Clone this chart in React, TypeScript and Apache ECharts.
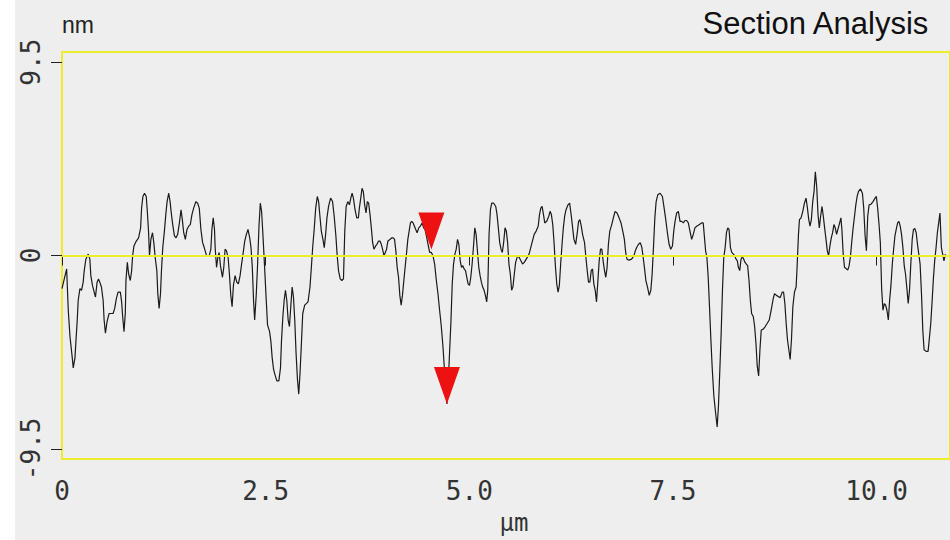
import React, { useEffect, useRef } from "react";
import * as echarts from "echarts";

// Section profile: horizontal position (μm) and height (nm)
const positionUm = [
  0.0, 0.057, 0.077, 0.098, 0.126, 0.138, 0.159, 0.171, 0.187, 0.199, 0.22, 0.24, 0.26, 0.273, 0.293, 0.322, 0.342, 0.354,
  0.374, 0.395, 0.411, 0.431, 0.448, 0.464, 0.484, 0.505, 0.517, 0.533, 0.553, 0.578, 0.627, 0.647, 0.667, 0.688, 0.716,
  0.732, 0.745, 0.761, 0.777, 0.785, 0.802, 0.818, 0.838, 0.855, 0.867, 0.883, 0.912, 0.94, 0.965, 0.977, 0.993, 1.013,
  1.034, 1.046, 1.062, 1.074, 1.091, 1.111, 1.127, 1.144, 1.164, 1.176, 1.192, 1.209, 1.221, 1.237, 1.257, 1.274, 1.29,
  1.31, 1.327, 1.339, 1.359, 1.38, 1.4, 1.42, 1.441, 1.461, 1.477, 1.494, 1.514, 1.534, 1.555, 1.575, 1.595, 1.616, 1.644,
  1.665,
  1.685, 1.705, 1.726, 1.746, 1.775, 1.807, 1.827, 1.84, 1.856, 1.872, 1.88, 1.897, 1.913, 1.929, 1.945, 1.97, 1.986,
  2.002, 2.019, 2.039, 2.055, 2.072, 2.088, 2.104, 2.125, 2.145, 2.165, 2.186, 2.202, 2.222, 2.243, 2.263, 2.283, 2.304,
  2.32, 2.336, 2.352, 2.365, 2.385, 2.401, 2.418, 2.434, 2.45, 2.466, 2.487, 2.507, 2.523, 2.548, 2.564, 2.58, 2.597,
  2.613, 2.637, 2.662, 2.682, 2.694, 2.711, 2.727, 2.743, 2.759, 2.776, 2.792, 2.808, 2.825, 2.841, 2.857, 2.873, 2.89,
  2.906, 2.922, 2.939, 2.955, 2.979, 3.02, 3.044, 3.061, 3.077, 3.097, 3.114, 3.134, 3.15, 3.166, 3.183, 3.203, 3.219,
  3.236, 3.252, 3.272, 3.297, 3.321, 3.341, 3.362, 3.378, 3.394, 3.415, 3.435,
  3.455, 3.471, 3.488, 3.508, 3.528, 3.545, 3.561, 3.577, 3.597, 3.618, 3.638, 3.65, 3.667, 3.683, 3.699, 3.715, 3.732,
  3.748, 3.764, 3.781, 3.797, 3.813, 3.829, 3.85, 3.866, 3.886, 3.903, 3.919, 3.935, 3.952, 3.968, 3.984, 4.0, 4.025,
  4.049, 4.066, 4.082, 4.098, 4.114, 4.131, 4.147, 4.163, 4.179, 4.196, 4.212, 4.228, 4.245, 4.261, 4.277, 4.293, 4.31,
  4.326, 4.342, 4.359, 4.379, 4.399, 4.42, 4.44, 4.456, 4.473, 4.493, 4.513, 4.534, 4.554, 4.574, 4.595, 4.615, 4.635,
  4.656, 4.676, 4.692, 4.709, 4.725, 4.741, 4.757, 4.774, 4.79, 4.806, 4.823, 4.839, 4.855, 4.871, 4.888, 4.904, 4.92,
  4.936, 4.953, 4.969, 4.985, 5.002, 5.018, 5.034, 5.05, 5.067, 5.083, 5.099, 5.116, 5.132, 5.148, 5.164, 5.181, 5.197,
  5.213,
  5.226, 5.242, 5.259, 5.275, 5.299, 5.324, 5.34, 5.356, 5.373, 5.389, 5.405, 5.421, 5.438, 5.454, 5.47, 5.486, 5.503,
  5.519, 5.535, 5.552, 5.568, 5.592, 5.613, 5.633, 5.653, 5.674, 5.698, 5.723, 5.739, 5.759, 5.78, 5.796, 5.82, 5.845,
  5.861, 5.877, 5.893, 5.91, 5.926, 5.95, 5.975, 5.991, 6.007, 6.024, 6.04, 6.056, 6.073, 6.089, 6.105, 6.121, 6.138,
  6.154, 6.17, 6.187, 6.211, 6.231, 6.252, 6.268, 6.284, 6.305, 6.325, 6.341, 6.357, 6.374, 6.39, 6.414, 6.431, 6.447,
  6.463, 6.48, 6.496, 6.512, 6.528, 6.545, 6.561, 6.577, 6.594, 6.61, 6.626, 6.642, 6.659, 6.675, 6.691, 6.707, 6.724,
  6.748, 6.773, 6.789, 6.813, 6.838, 6.862, 6.887, 6.903, 6.919, 6.935, 6.96, 6.992,
  7.02, 7.037, 7.057, 7.077, 7.098, 7.118, 7.134, 7.151, 7.167, 7.187, 7.208, 7.228, 7.244, 7.261, 7.277, 7.293, 7.313,
  7.342, 7.37, 7.391, 7.411, 7.431, 7.452, 7.472, 7.493, 7.509, 7.525, 7.545, 7.566, 7.586, 7.607, 7.627, 7.647, 7.668,
  7.688, 7.708, 7.729, 7.749, 7.769, 7.79, 7.81, 7.851, 7.871, 7.883, 7.9, 7.916, 7.932, 7.948, 7.965, 7.981, 8.001,
  8.022, 8.042, 8.058, 8.075, 8.091, 8.107, 8.123, 8.14, 8.156, 8.172, 8.188, 8.205, 8.221, 8.241, 8.258, 8.274, 8.29,
  8.302, 8.319, 8.335, 8.351, 8.368, 8.384, 8.4, 8.416, 8.433, 8.449, 8.465, 8.486, 8.502, 8.518, 8.534, 8.551, 8.567,
  8.583, 8.608, 8.632, 8.657, 8.681, 8.705, 8.73, 8.746, 8.77,
  8.791, 8.816, 8.84, 8.857, 8.873, 8.889, 8.905, 8.922, 8.938, 8.954, 8.971, 8.991, 9.011, 9.023, 9.04, 9.052, 9.072,
  9.093, 9.113, 9.133, 9.15, 9.166, 9.182, 9.198, 9.215, 9.231, 9.247, 9.264, 9.28, 9.296, 9.312, 9.329, 9.345, 9.361,
  9.378, 9.394, 9.41, 9.426, 9.443, 9.459, 9.475, 9.491, 9.508, 9.524, 9.54, 9.561, 9.573, 9.589, 9.605, 9.63, 9.646,
  9.662, 9.679, 9.695, 9.711, 9.728, 9.744, 9.76, 9.776, 9.801, 9.825, 9.841, 9.858, 9.874, 9.89, 9.907, 9.931, 9.955,
  9.98, 9.996, 10.012, 10.029, 10.045, 10.061, 10.077, 10.094, 10.11, 10.126, 10.143, 10.159, 10.175, 10.192, 10.208,
  10.224, 10.24, 10.257, 10.273, 10.289, 10.305, 10.322, 10.338, 10.354, 10.371, 10.387, 10.403, 10.419, 10.436, 10.452,
  10.468, 10.485, 10.501, 10.517, 10.533, 10.55, 10.566, 10.582, 10.607, 10.631, 10.647, 10.664, 10.68, 10.696, 10.712,
  10.729, 10.745, 10.761, 10.777, 10.794, 10.81, 10.826, 10.843,
];

const heightNm = [
  -1.63, -0.66, -2.69, -3.98, -5.03, -5.52, -5.03, -4.22, -3.17, -2.2, -1.63, -1.71, -1.31, -0.74, -0.18, 0.07, -0.18, -0.99,
  -1.47, -1.8, -2.04, -1.31, -1.15, -1.31, -1.55, -2.2, -3.17, -3.82, -3.25, -2.85, -2.85, -2.6, -2.12, -1.8, -1.8,
  -2.28, -3.01, -3.74, -2.85, -1.23, -0.34, -0.91, -1.23, -0.74, -0.02, 0.47, 0.71, 0.87, 1.36, 2.33, 2.9, 3.06,
  2.9, 2.25, 1.2, -0.02, 0.79, 1.12, 0.63, -0.1, -0.74, -1.88, -2.6, -1.88, -0.74, 0.39, 1.2, 2.01, 2.65,
  3.06, 2.65, 2.17, 1.52, 0.96, 0.87, 1.04, 1.6, 2.25, 1.76, 1.12, 0.79, 1.28, 1.44, 1.52, 2.01, 2.33, 2.65,
  2.57,
  2.33, 1.28, 0.63, 0.39, -0.02, -0.02, 0.31, 1.28, 1.85, 1.28, 0.39, -0.58, -0.1, 0.15, -0.5, -1.07, -0.58,
  0.31, 0.23, -0.1, -0.91, -1.96, -2.52, -1.47, -0.99, -1.31, -1.39, -0.99, -0.5, 0.07, 0.71, 1.04, 1.28, 0.87,
  0.39, -0.58, -2.28, -3.17, -1.88, -0.42, 1.44, 2.57, 2.17, 1.04, -0.58, -2.2, -3.41, -3.74, -4.22, -5.03, -5.6,
  -5.84, -6.16, -6.16, -5.52, -4.22, -3.01, -2.2, -1.71, -2.2, -3.17, -3.49, -2.52, -1.55, -2.04, -3.17, -4.79, -6.08,
  -6.81, -5.76, -4.3, -2.85, -2.44, -2.28, -1.55, -0.58, 0.39, 1.36, 2.33, 2.9, 2.65, 1.93, 1.2, 0.79, 0.39,
  1.04, 1.85, 2.41, 2.82, 2.65, 1.93, 0.96, -0.02, -0.74, -1.15, -1.23,
  -1.15, 1.2, 2.41, 2.65, 2.49, 2.82, 3.06, 2.82, 2.25, 1.85, 1.85, 2.33, 2.82, 3.3, 3.14, 2.49, 2.09,
  2.65, 2.57, 2.01, 1.36, 0.63, 0.31, 0.47, 0.55, 0.71, 0.71, 0.55, 0.31, -0.02, 0.15, 0.31, 0.71, 0.79,
  0.87, 0.87, 0.79, 0.23, -0.58, -1.07, -1.96, -2.44, -1.96, -1.23, -0.58, 0.07, 0.79, 1.2, 1.6, 1.68, 1.6,
  1.44, 1.28, 1.12, 1.36, 1.44, 1.6, 1.36, 1.28, 0.96, 0.55, 0.15, 0.15, -0.02, -0.42, -1.23, -1.88, -2.69,
  -3.49, -4.47, -5.44, -6.25, -7.3, -6.25, -4.79, -3.25, -1.39, -0.42, 0.07, 0.31, 0.79, 0.55, -0.26, -0.58, -0.5,
  -0.66, -0.74, -1.07, -1.39, -1.47, -1.07, -0.42, 0.39, 1.36, 1.04, 0.23, -0.58, -0.99, -1.31, -1.55, -1.71, -1.96,
  -2.28,
  -1.71, 1.04, 2.25, 2.57, 2.57, 2.41, 2.01, 1.36, 0.63, 0.31, 0.15, 0.63, 1.36, 1.2, 0.63, -0.42, -0.91,
  -1.71, -1.55, -0.91, -0.34, -0.02, -0.1, -0.26, -0.42, -0.34, -0.18, -0.02, 0.15, 0.47, 0.79, 1.04, 1.2, 1.44,
  2.01, 2.33, 2.41, 2.01, 1.6, 1.68, 1.93, 2.17, 2.01, 1.52, 0.63, -0.5, -1.39, -1.8, -1.47, -0.42, 0.55,
  1.36, 1.93, 2.25, 2.49, 2.57, 1.93, 1.36, 0.79, 0.55, 1.12, 1.68, 1.76, 1.44, 1.04, 0.63, -0.1, -0.74,
  -1.31, -1.31, -0.74, -0.66, -1.39, -1.71, -2.28, -1.31, -0.26, 0.31, 0.31, -0.26, -0.74, -1.07, -0.58, 0.55, 1.2,
  1.52, 1.93, 2.17, 2.09, 1.85, 1.6, 1.12, 0.79, 0.15, -0.18, -0.23, -0.18,
  -0.02, 0.23, 0.42, 0.55, 0.63, 0.39, -0.1, -0.66, -1.23, -1.55, -1.96, -1.71, -0.91, 0.47, 1.85, 2.65, 2.98,
  3.06, 2.9, 2.33, 1.76, 1.12, 0.55, 0.31, 0.47, 1.2, 1.68, 2.09, 2.17, 1.68, 1.68, 1.6, 1.72, 1.72,
  1.6, 1.2, 0.79, 1.04, 1.36, 1.44, 1.49, 1.6, 1.6, 1.04, 0.23, -0.1, -1.07, -2.52, -4.14, -5.52, -6.89,
  -7.7, -8.43, -7.38, -5.6, -3.82, -1.71, -0.1, 0.39, 1.12, 1.36, 1.28, 0.39, 0.15, 0.07, -0.02, -0.18, -0.26,
  -0.58, -0.74, -0.18, -0.06, -0.18, -0.34, -0.42, -0.5, -1.23, -2.2, -2.85, -3.01, -3.49, -4.3, -5.44, -5.92, -4.63,
  -3.66, -3.62, -3.49, -3.33, -3.17, -2.69, -2.12, -1.88, -1.96,
  -2.01, -2.07, -1.8, -1.8, -2.36, -3.33, -4.14, -4.63, -5.11, -4.14, -2.52, -1.8, -1.55, -0.58, 1.04, 1.76, 1.85,
  2.17, 2.57, 2.82, 2.33, 1.76, 1.44, 1.76, 2.65, 3.14, 4.11, 3.38, 2.01, 1.36, 1.93, 2.41, 1.93, 1.36,
  0.79, 0.23, -0.02, 0.47, 0.87, 1.12, 1.52, 1.36, 1.04, 1.28, 1.52, 1.85, 1.28, 0.07, -0.58, -0.66, -0.71,
  -0.5, -0.02, 0.71, 1.36, 1.93, 2.49, 2.9, 3.14, 3.27, 3.06, 2.33, 0.96, 0.23, 1.93, 2.49, 2.52, 2.65,
  2.82, 2.9, 2.33, 1.52, 0.63, -1.63, -2.69, -2.36, -2.44, -2.69, -3.17, -2.2, -1.47, -0.42, 0.31,
  0.96, 1.28, 1.6, 1.68, 1.44, 1.04, 0.39, -0.5, -0.91, -1.63, -2.36, -1.71, -0.42, 0.79, 1.28,
  1.33, 1.12, 0.55, 0.07, -0.42, -1.88, -3.66, -4.63, -4.71, -4.71, -4.06, -3.33, -2.28, -1.15, -0.26,
  0.39, 1.12, 1.6, 2.09, 0.39, 0.07, -0.26, 0.07,
];

// Section markers (cursor pair)
const markerUm = [4.534, 4.725];
const markerNm = [0.3, -7.3];

const xTickValues = [0, 2.5, 5, 7.5, 10];
const yTickValues = [-9.5, 0, 9.5];

const YELLOW = "#eded2c";
const MONO = "DejaVu Sans Mono";

export default function App() {
  const ref = useRef<HTMLDivElement>(null);

  useEffect(() => {
    if (!ref.current) return;
    const chart = echarts.init(ref.current, null, { renderer: "svg" });
    const fmt = (v: number) => (v === 0 ? "0" : v.toFixed(1));
    chart.setOption({
      animation: false,
      backgroundColor: "#eeeeee",
      title: {
        text: "Section Analysis",
        right: 15,
        top: 3,
        textStyle: { fontFamily: "Liberation Sans", fontSize: 31, fontWeight: "normal", color: "#111" },
      },
      graphic: [
        {
          type: "rect",
          left: 0,
          top: 0,
          shape: { width: 15, height: 540 },
          style: { fill: "#ffffff" },
          silent: true,
          z: -10,
        },
      ],
      grid: {
        left: 62,
        right: -5,
        top: 52,
        bottom: 76,
        show: true,
        borderColor: YELLOW,
        borderWidth: 2,
        backgroundColor: "transparent",
      },
      xAxis: {
        type: "value",
        min: 0,
        max: 10.9,
        name: "μm",
        nameLocation: "middle",
        nameGap: 64,
        nameTextStyle: {
          fontFamily: MONO,
          fontSize: 24,
          color: "#333",
          verticalAlign: "middle",
          padding: [0, 0, 0, 16],
        },
        axisLine: { show: false },
        axisTick: { show: true, customValues: xTickValues, length: 10, lineStyle: { color: "#222", width: 1 } },
        axisLabel: {
          customValues: xTickValues,
          formatter: fmt,
          margin: 19,
          fontFamily: MONO,
          fontSize: 26,
          color: "#333",
        },
        splitLine: { show: false },
      },
      yAxis: {
        type: "value",
        min: -10,
        max: 10,
        name: "nm",
        nameLocation: "end",
        nameGap: 27,
        nameTextStyle: {
          fontFamily: "Liberation Sans",
          fontSize: 23,
          color: "#222",
          align: "left",
          verticalAlign: "middle",
        },
        axisLine: { show: false },
        axisTick: { show: true, customValues: yTickValues, length: 11, lineStyle: { color: "#222", width: 1 } },
        axisLabel: {
          customValues: yTickValues,
          formatter: fmt,
          rotate: 90,
          margin: 18,
          fontFamily: MONO,
          fontSize: 26,
          color: "#333",
        },
        splitLine: { show: false },
      },
      series: [
        {
          type: "line",
          data: positionUm.map((x, i) => [x, heightNm[i]]),
          showSymbol: false,
          symbol: "none",
          lineStyle: { color: "#1a1a1a", width: 1.2 },
          z: 3,
          markLine: {
            silent: true,
            symbol: "none",
            label: { show: false },
            lineStyle: { color: YELLOW, width: 2, type: "solid" },
            data: [{ yAxis: 0 }],
          },
        },
        {
          type: "scatter",
          data: markerUm.map((x, i) => [x, markerNm[i]]),
          symbol: "path://M0,0L2,0L1,2Z",
          symbolSize: [26, 37],
          symbolOffset: [0, -18.5],
          itemStyle: { color: "#ee1111", opacity: 1 },
          silent: true,
          z: 5,
        },
      ],
    });
    return () => chart.dispose();
  }, []);

  return <div ref={ref} style={{ position: "fixed", left: 0, top: 0, width: 950, height: 540 }} />;
}
